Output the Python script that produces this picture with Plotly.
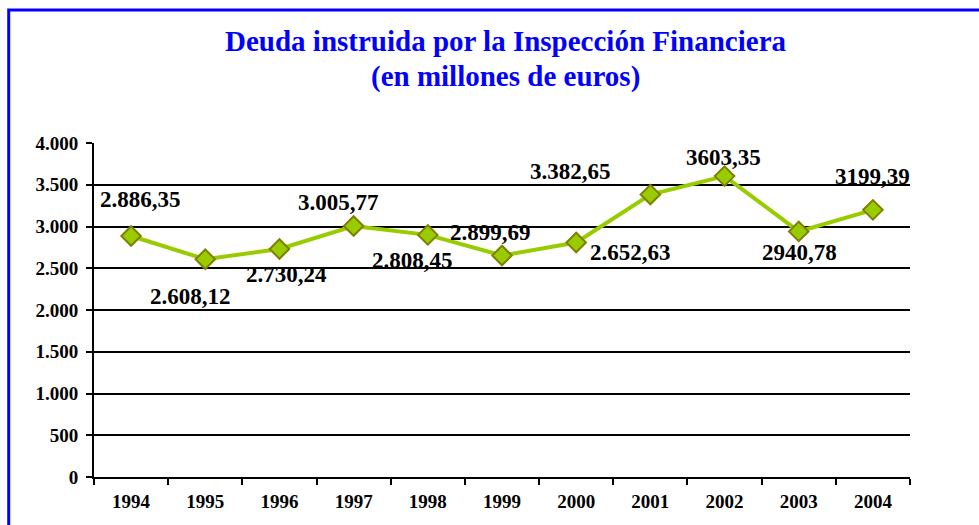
import plotly.graph_objects as go

years = ["1994", "1995", "1996", "1997", "1998", "1999", "2000", "2001", "2002", "2003", "2004"]
deuda = [2886.35, 2608.12, 2730.24, 3005.77, 2899.69, 2652.63, 2808.45, 3382.65, 3603.35, 2940.78, 3199.39]
# label texts exactly as printed in the original chart
label_texts = ["2.886,35", "2.608,12", "2.730,24", "3.005,77", "2.808,45", "2.899,69",
               "2.652,63", "3.382,65", "3603,35", "2940,78", "3199,39"]
# pixel offsets of each label relative to its point (style)
label_dx = [9, -15, 7, -15, -15, -12, 54, -80, -1, 1, 0]
label_dy = [36, -37, -25, 24, -26, 23, -10, 23, 19, -21, 33]
y_ticks = [0, 500, 1000, 1500, 2000, 2500, 3000, 3500, 4000]
title_lines = ["Deuda instruida por la Inspección Financiera", "(en millones de euros)"]

FONT = "Liberation Serif"

fig = go.Figure()
fig.add_trace(go.Scatter(
    x=years, y=deuda, mode="lines+markers",
    line=dict(color="#99CC00", width=4),
    marker=dict(symbol="diamond", size=15, color="#99CC00",
                line=dict(color="#808000", width=2)),
    hoverinfo="x+y", showlegend=False,
))

for i, (v, t, dx, dy) in enumerate(zip(deuda, label_texts, label_dx, label_dy)):
    fig.add_annotation(x=i, y=v, xref="x", yref="y", text=t, showarrow=False,
                       xshift=dx, yshift=dy, xanchor="center", yanchor="middle",
                       font=dict(family=FONT, size=23, color="black", weight="bold"))

for t, ty in zip(title_lines, [1.305, 1.200]):
    fig.add_annotation(xref="paper", yref="paper", x=0.5045, y=ty, text=t,
                       showarrow=False, xanchor="center", yanchor="middle",
                       font=dict(family=FONT, size=29, color="#0000FF", weight="bold"))

# blue frame (left and top)
fig.add_shape(type="path", xref="paper", yref="paper",
              path="M -0.1045,-0.2 L -0.1045,1.398 L 1.2,1.398",
              line=dict(color="#0000FF", width=3))

fig.update_layout(
    width=979, height=525,
    margin=dict(l=94, r=69, t=143, b=48),
    paper_bgcolor="white", plot_bgcolor="white",
    separators=",.",
    font=dict(family=FONT, color="black"),
    xaxis=dict(type="category", showgrid=False, showline=True, linecolor="black",
               linewidth=2, ticks="outside", tickson="boundaries", ticklen=6,
               tickwidth=2, tickcolor="black", ticklabelstandoff=6,
               tickfont=dict(family=FONT, size=19, color="black", weight="bold"),
               range=[-0.5, 10.5], fixedrange=True),
    yaxis=dict(range=[0, 4000], tickvals=y_ticks, tickformat=",d",
               showgrid=True, gridcolor="black", gridwidth=1.5,
               showline=True, linecolor="black", linewidth=2,
               ticks="outside", ticklen=6, tickwidth=2, tickcolor="black",
               ticklabelstandoff=4, zeroline=False,
               tickfont=dict(family=FONT, size=19, color="black", weight="bold"),
               fixedrange=True),
)

fig.write_html("out.html", config={"displayModeBar": False},
               post_script="document.body.style.margin='0';")
